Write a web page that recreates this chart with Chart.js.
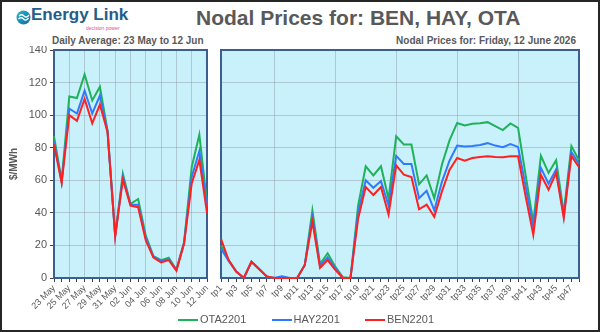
<!DOCTYPE html>
<html>
<head>
  <title>Nodal Prices</title>
  <script src="https://cdn.jsdelivr.net/npm/chart.js@4"></script>
  <style>
    body { margin: 0; background: #fff; }
    #frame { position: relative; width: 600px; height: 332px; box-sizing: border-box; border: 2px solid #262626; overflow: hidden;
             font-family: "Liberation Sans Narrow", "Liberation Sans", sans-serif; color: #595959; }
    .abs { position: absolute; white-space: nowrap; }
    #title { left: 194px; top: 4px; font-size: 21px; font-weight: bold; }
    #sub1 { left: 50px; top: 33px; font-size: 10px; font-weight: bold; }
    #sub2 { right: 22px; top: 33px; font-size: 10px; font-weight: bold; }
    #brand { left: 29px; top: 3px; font-size: 17px; font-weight: bold; color: #215e8c; font-family: "Liberation Sans Narrow", sans-serif; }
    #tag { left: 84px; top: 24px; font-size: 5px; line-height: 5px; color: #e0508a; }
    #legend { left: 176px; top: 311px; font-size: 11px; }
    #legend span { display: inline-block; width: 93.5px; }
    #legend i { display: inline-block; width: 20px; height: 2px; vertical-align: middle; margin-right: 2px; }
    canvas { position: absolute; }
  </style>
</head>
<body>
<div id="frame">
  <svg class="abs" style="left:14px;top:8px" width="15" height="15" viewBox="0 0 15 15">
    <defs><linearGradient id="g" x1="0" y1="0" x2="1" y2="1"><stop offset="0" stop-color="#2ab7cf"/><stop offset="1" stop-color="#0e6a9c"/></linearGradient></defs>
    <circle cx="7.5" cy="7.5" r="7" fill="url(#g)"/>
    <path d="M3 6 Q5.5 3.5 8 6 T13 5" stroke="#fff" stroke-width="1.3" fill="none"/>
    <path d="M2.5 9 Q5 6.5 7.5 9 T12.5 8" stroke="#fff" stroke-width="1.3" fill="none"/>
  </svg>
  <div class="abs" id="brand">Energy Link</div>
  <div class="abs" id="tag">decision power</div>
  <div class="abs" id="title">Nodal Prices for: BEN, HAY, OTA</div>
  <div class="abs" id="sub1">Daily Average: 23 May to 12 Jun</div>
  <div class="abs" id="sub2">Nodal Prices for: Friday, 12 June 2026</div>
  <canvas id="left" width="212" height="268" style="left:0px;top:44px"></canvas>
  <canvas id="right" width="398" height="268" style="left:200px;top:44px"></canvas>
  <div class="abs" id="legend">
    <span><i style="background:#1fb25a"></i>OTA2201</span><span><i style="background:#2f7bff"></i>HAY2201</span><span><i style="background:#ff2020"></i>BEN2201</span>
  </div>
</div>

<script>
  // daily averages
  const days = ['23 May','24 May','25 May','26 May','27 May','28 May','29 May','30 May','31 May',
    '01 Jun','02 Jun','03 Jun','04 Jun','05 Jun','06 Jun','07 Jun','08 Jun','09 Jun','10 Jun','11 Jun','12 Jun'];
  const otaDaily = [87, 60, 111.5, 110.5, 125, 109, 117.5, 90.5, 26, 64, 45.5, 48.5, 26, 13.5, 11, 12.5, 5, 22, 68, 88, 46];
  const hayDaily = [84, 59, 104, 101, 115, 101, 112, 90, 26, 62, 45, 45, 24.5, 13, 10.5, 11.5, 5, 21.5, 62, 78, 44];
  const benDaily = [82, 58.5, 100, 96.5, 110, 95, 106.5, 89.5, 25.5, 60.5, 44.5, 43.5, 23, 12.5, 9.5, 11, 4.5, 21, 58, 72.5, 40];

  // trading periods for 12 June
  const periods = ['tp1','tp2','tp3','tp4','tp5','tp6','tp7','tp8','tp9','tp10','tp11','tp12','tp13','tp14','tp15','tp16',
    'tp17','tp18','tp19','tp20','tp21','tp22','tp23','tp24','tp25','tp26','tp27','tp28','tp29','tp30','tp31','tp32',
    'tp33','tp34','tp35','tp36','tp37','tp38','tp39','tp40','tp41','tp42','tp43','tp44','tp45','tp46','tp47','tp48'];
  const otaTp = [20, 11, 4, 0, 10, 5.5, 1, 0, 0.3, 0, 0, 8, 41.5, 8.6, 15.2, 7, 0.4, 0, 44.5, 68.6, 63, 68.6, 48.7, 87,
    82, 82, 57.5, 63, 49, 69.5, 84.5, 95.2, 93.6, 94.7, 95, 95.7, 93.2, 90.8, 94.9, 92.2, 63, 34.3, 75, 64.5, 72.3, 40, 81, 72.3];
  const hayTp = [18, 10.5, 4, 0, 10, 5.5, 1, 0, 1, 0, 0, 8, 37.4, 7.6, 12.7, 6, 0.2, 0, 40.4, 60, 55.4, 59.5, 44.5, 75,
    70, 70, 49, 53.5, 41.5, 59, 72, 81.3, 80.8, 81.1, 81.7, 82.8, 81.3, 80.3, 82.3, 80.5, 56, 31.2, 67.6, 57.9, 66.7, 38, 77.4, 70];
  const benTp = [24, 11, 4, 0, 10, 5.5, 1, 0, 0, 0, 0, 8, 34.7, 6.2, 11, 5, 0, 0, 36.3, 55.9, 51, 55.9, 39, 69.2,
    63.4, 62, 42.2, 45, 37.6, 53, 66.3, 73.7, 72, 73.7, 74.3, 74.7, 74.3, 74.1, 74.7, 74.7, 50, 26.5, 63.4, 54.2, 64.5, 37, 75, 68];

  const yTicks = [0, 20, 40, 60, 80, 100, 120, 140];

  const FONT = '"Liberation Sans Narrow", "Liberation Sans", sans-serif';
  const GREEN = '#1fb25a', BLUE = '#2f7bff', RED = '#ff2020';

  // plot background + box border
  const plotBox = {
    id: 'plotBox',
    beforeDraw(chart){
      const a = chart.chartArea, c = chart.ctx;
      c.save(); c.fillStyle = '#c9f1fb'; c.fillRect(a.left, a.top, a.right-a.left, a.bottom-a.top); c.restore();
    },
    beforeDatasetsDraw(chart){
      const a = chart.chartArea, c = chart.ctx;
      c.save(); c.strokeStyle = '#3b5f8f'; c.lineWidth = 2;
      c.strokeRect(a.left, a.top, a.right-a.left, a.bottom-a.top); c.restore();
    }
  };

  function makeDatasets(g, b, r){
    const ds = (label, data, color, order) => ({label, data, borderColor: color, borderWidth: 2, pointRadius: 0, tension: 0, order, clip: false});
    return [ds('OTA2201', g, GREEN, 3), ds('HAY2201', b, BLUE, 2), ds('BEN2201', r, RED, 1)];
  }

  function makeChart(id, labels, g, b, r, gridAt, opts){
    return new Chart(document.getElementById(id), {
      type: 'line',
      data: {labels, datasets: makeDatasets(g, b, r)},
      plugins: [plotBox],
      options: {
        responsive: false, animation: false, devicePixelRatio: 1,
        layout: {padding: opts.padding},
        plugins: {legend: {display: false}, tooltip: {enabled: false}},
        scales: {
          x: {
            offset: false,
            border: {display: false},
            grid: {
              color: ctx => gridAt(ctx.index) ? 'rgba(140,150,160,0.45)' : 'rgba(0,0,0,0)',
              tickColor: '#404040', tickLength: 4, lineWidth: 1
            },
            ticks: {
              autoSkip: false, maxRotation: 45, minRotation: 45, padding: 1,
              color: '#595959', font: {family: FONT, size: 9},
              callback: (v, i) => i % 2 === 0 ? labels[i] : ''
            },
            afterFit: s => { s.height = 36; s.paddingLeft = 0; s.paddingRight = 0; }
          },
          y: {
            min: 0, max: 140,
            border: {display: false},
            afterBuildTicks: s => { s.ticks = yTicks.map(v => ({value: v})); },
            grid: {color: 'rgba(140,150,160,0.45)', tickColor: '#404040', tickLength: 4, drawTicks: opts.yLabels},
            ticks: {display: opts.yLabels, padding: 3, color: '#595959', font: {family: '"Liberation Sans", sans-serif', size: 11}},
            title: {display: opts.yLabels, text: '$/MWh', color: '#595959', font: {family: FONT, size: 10, weight: 'bold'}, padding: {top: 6, bottom: 2}},
            afterFit: s => { s.width = opts.yWidth; s.paddingTop = 0; s.paddingBottom = 0; }
          }
        }
      }
    });
  }

  makeChart('left', days, otaDaily, hayDaily, benDaily, i => i % 2 === 0 && i > 0 && i < days.length - 1,
    {padding: {left: 0, top: 4, right: 7, bottom: 0}, yLabels: true, yWidth: 52});
  makeChart('right', periods, otaTp, hayTp, benTp, i => i % 8 === 7 && i < periods.length - 1,
    {padding: {left: 19, top: 4, right: 21, bottom: 0}, yLabels: false, yWidth: 0});
</script>
</body>
</html>
